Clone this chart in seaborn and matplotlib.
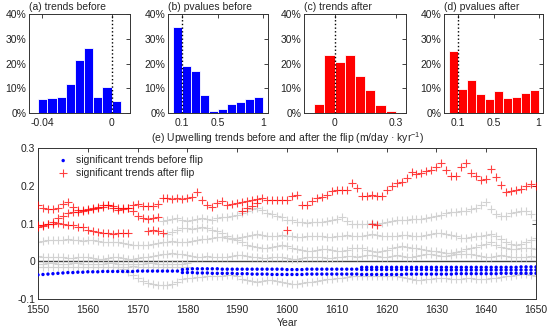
import numpy as np
import pandas as pd
import matplotlib
matplotlib.use('Agg')
import matplotlib.pyplot as plt
from matplotlib.ticker import FuncFormatter
import seaborn as sns

sns.set_theme(style="white")
plt.rcParams['font.family'] = ['Liberation Sans', 'DejaVu Sans']
plt.rcParams['mathtext.fontset'] = 'custom'
plt.rcParams['mathtext.rm'] = 'Liberation Sans'
plt.rcParams['axes.unicode_minus'] = False

# ---- histogram data (percent per bin) ----
a_edges = np.arange(-8, 2) * 0.0053
a_vals = [5.75, 6.2, 6.6, 11.9, 21.5, 26.3, 6.3, 10.5, 4.9]
b_edges = np.linspace(0, 1, 11)
b_vals = [34.9, 18.8, 17.0, 7.3, 1.0, 1.6, 3.6, 4.5, 5.5, 6.3]
c_edges = np.linspace(-0.1, 0.3, 9)
c_vals = [3.7, 23.3, 20.5, 23.6, 15.1, 9.2, 3.4, 1.0]
d_edges = np.linspace(0, 1, 11)
d_vals = [24.9, 9.6, 13.4, 7.8, 5.5, 8.9, 6.2, 6.4, 7.9, 9.2]

# ---- time series (values in 0.01 m/day/kyr), start year + yearly values ----
red_main_start = 1550
red_main = [14.8, 14.2, 13.8, 13.8, 14.0, 15.2, 15.8, 14.4, 13.6, 13.6,
            13.8, 14.0, 14.2, 14.5, 15.0, 14.6, 14.2, 14.2, 14.2, 14.8,
            15.2, 14.6, 14.6, 14.6, 15.2, 16.8, 16.8, 16.6, 16.8, 16.6,
            16.8, 17.0, 18.4, 16.2, 14.9, 14.5, 15.4, 16.0, 14.9, 15.2,
            15.5, 15.8, 16.0, 16.3, 16.5, 16.7, 16.3, 16.3, 16.3, 16.3,
            16.3, 17.2, 17.6, 14.9, 14.9, 16.0, 16.8, 17.0, 17.6, 18.7,
            18.8, 18.9, 18.9, 20.7, 19.5, 17.4, 17.2, 17.5, 17.3, 17.4,
            19.0, 20.0, 20.7, 21.1, 22.0, 23.6, 23.2, 23.4, 24.0, 24.2,
            25.0, 26.0, 24.2, 22.7, 22.7, 25.0, 25.9, 23.5, 22.7, 21.5,
            21.8, 24.4, 22.4, 20.2, 18.3, 18.6, 19.0, 19.2, 20.0, 20.5, 20.0]
red_mid_start = 1550
red_mid = [9.5, 9.6, 10.0, 10.4, 11.4, 12.0, 12.8, 13.0, 13.0, 13.2,
           13.6, 13.8, 14.3, 14.8, 15.0, 14.2, 13.5, 13.8, 14.2, 13.2,
           12.0, 11.5, 11.3, 11.5, 11.8]
red_low_start = 1550
red_low = [9.2, 9.4, 9.9, 10.0, 10.2, 10.0, 9.7, 9.6, 9.2, 9.0,
           8.4, 8.0, 7.8, 7.6, 7.4, 7.3, 7.5, 7.6, 7.6, np.nan,
           np.nan, np.nan, 7.9, 8.4, 8.0, 7.5]
red_branch_start = 1591
red_branch = [13.3, 14.0, 14.7, 15.4]
red_single_years = [1600, 1617, 1618]
red_single = [8.4, 9.9, 9.5]

gray1_start = 1575
gray1 = [10.7, 11.0, 11.3, 11.4, 11.0,
         10.6, 10.8, 11.2, 11.4, 11.2, 11.0, 11.4, 11.6, 11.8, 12.0,
         12.2, 12.8, 13.4, 13.8, 14.2, 13.6, 12.8, 12.4, 12.0, 11.6,
         11.0, 10.8, 10.4, 10.4, 10.2, 10.4, 10.4, 10.4, 10.6, 10.8,
         11.2, 11.6, 10.6, 9.8, 9.8, 9.9, 10.0, 10.1, 10.0, 10.2,
         10.4, 10.6, 10.8, 10.8, 11.0, 11.2, 11.2, 11.3, 11.4, 11.6,
         12.0, 12.2, 12.8, 13.0, 13.0, 13.2, 13.4, 13.8, 14.2, 15.0,
         15.8, 13.8, 12.4, 12.0, 12.0, 12.8, 13.0, 13.2, 13.4, 12.4, 11.0]
gray2_start = 1550
gray2 = [5.2, 5.4, 5.6, 5.6, 5.5, 5.6, 5.8, 5.6, 5.5, 5.4,
         5.5, 5.6, 5.4, 5.2, 5.2, 5.0, 5.0, 4.8, 4.6, 4.4,
         4.3, 4.2, 4.4, 4.6, 4.8, 5.0, 5.2, 5.4, 5.2, 5.0,
         5.2, 5.4, 5.6, 5.8, 6.0, 6.2, 6.4, 6.4, 6.2, 6.0,
         6.2, 6.5, 6.8, 7.0, 7.2, 7.0, 6.8, 6.6, 6.8, 7.0,
         6.8, 6.6, 6.4, 6.4, 6.6, 6.8, 6.8, 6.6, 6.4, 6.4,
         6.6, 6.8, 7.0, 6.8, 6.6, 6.8, 7.0, 7.2, 7.0, 6.8,
         6.6, 6.6, 6.8, 7.0, 7.0, 6.8, 6.8, 6.8, 7.0, 7.2,
         7.4, 7.4, 7.2, 7.0, 6.6, 6.2, 6.2, 6.4, 6.6, 6.8,
         7.0, 7.2, 6.6, 5.8, 5.2, 4.6, 4.4, 4.6, 5.0, 5.6, 6.2]
gray3_start = 1576
gray3 = [7.2, 7.8, 8.4, 8.8,
         8.8, 8.6, 8.8, 9.0, 8.8, 8.4, 8.0, 7.4, 6.8, 6.2,
         5.6, 5.0, 4.4, 4.0, 3.8, 3.6, 3.6, 3.8, 4.0, 4.2,
         4.0, 3.6, 3.2, 3.0, 2.8, 2.8, 3.0, 3.2, 3.2, 3.0,
         2.8, 2.8, 3.0, 3.4, 3.6, 3.4, 3.0, 2.6, 2.4, 2.6,
         3.0, 3.4, 3.8, 4.0, 3.8, 3.6, 3.4, 3.2, 3.0, 2.8,
         2.6, 2.4, 2.2, 2.2, 2.4, 2.8, 3.2, 3.6, 3.8, 4.2,
         4.6, 5.0, 4.4, 3.8, 3.4, 3.2, 3.2, 3.4, 3.6, 3.4, 3.2]
gray4_start = 1550
gray4 = [1.4, 1.2, 1.0, 1.0, 1.2, 1.0, 0.8, 0.8, 1.0, 1.2,
         1.0, 0.8, 0.6, 0.6, 0.8, 1.0, 1.0, 0.8, 0.6, 0.6,
         0.8, 1.0, 1.2, 1.4, 1.6, 1.8, 2.0, 2.2, 2.0, 1.8,
         1.6, 1.4, 1.2, 1.2, 1.4, 1.2, 1.0, 1.0, 1.2, 1.4,
         1.6, 1.6, 1.4, 1.2, 1.0, 0.8, 0.8, 1.0, 1.2, 1.0,
         0.8, 0.6, 0.6, 0.8, 1.0, 1.2, 1.2, 1.0, 0.8, 0.8,
         1.0, 1.2, 1.4, 1.4, 1.2, 1.4, 1.6, 1.6, 1.4, 1.2,
         1.2, 1.4, 1.6, 1.4, 1.2, 1.2, 1.4, 1.6, 1.8, 1.8,
         1.6, 1.4, 1.4, 1.6, 1.8, 2.0, 2.0, 1.8, 1.6, 1.4,
         1.2, 1.2, 1.4, 1.6, 1.4, 1.2, 1.0, 1.0, 1.2, 1.4, 1.2]
gray5_start = 1566
gray5 = [-1.4, -2.0, -2.8, -3.6,
         -4.4, -5.2, -5.8, -6.0, -6.2, -6.3, -6.2, -6.0, -5.4, -4.8,
         -4.5, -4.4, -4.2, -4.2, -4.0, -4.0, -4.0, -3.8, -3.6, -3.6,
         -4.0, -4.6, -5.0, -5.2, -5.4, -5.2, -5.0, -5.0, -5.2, -5.4,
         -5.8, -6.0, -6.0, -5.8, -5.6, -5.4, -5.2, -5.0, -4.8, -4.6,
         -4.5, -4.4, -4.2, -4.0, -4.0, -4.0, -4.0, -4.0, -4.0, -4.0,
         -4.0, -4.0, -4.0, -4.2, -4.4, -4.8, -5.0, -5.0, -4.8, -4.6,
         -4.4, -4.4, -4.4, -4.6, -4.6, -4.6, -4.4, -4.4, -4.6, -4.6,
         -4.6, -4.4, -4.4, -4.2, -4.0, -3.8, -3.6, -3.4, -3.4, -3.6, -3.8]
gray6_start = 1550
gray6 = [-0.6, -0.6, -0.5, -0.5, -0.6, -0.7, -0.6, -0.5, -0.5, -0.6,
         -0.6, -0.7, -0.6, -0.6, -0.5, -0.5, -0.6, -0.6, -0.7, -0.7,
         -0.6, -0.6, -0.5, -0.5, -0.6, -0.6, -0.7, -0.7, -0.6, -0.6, -0.5]
gray7_start = 1550
gray7 = [-1.6, -1.6, -1.5, -1.4, -1.4, -1.5, -1.6, -1.6, -1.5, -1.4,
         -1.4, -1.4, -1.5, -1.6, -1.6, -1.6, -1.5, -1.4, -1.4, -1.3,
         -1.4, -1.5, -1.6, -1.6, -1.5, -1.4, -1.4, -1.5, -1.5, -1.6, -1.6]

blue1_start = 1550
blue1 = [-3.6, -3.5, -3.4, -3.3, -3.2, -3.1, -3.0, -3.0, -2.9, -2.9,
         -2.8, -2.8, -2.8, -2.7, -2.7, -2.7, -2.7, -2.7, -2.7, -2.7,
         -2.6, -2.6, -2.6, -2.6, -2.6, -2.6, -2.6, -2.6, -2.6, -3.0,
         -3.0, -3.0, -3.1, -3.1, -3.1, -3.2, -3.2, -3.2, -3.2, -3.2,
         -3.3, -3.3, -3.3, -3.4, -3.4, -3.4, -3.4, -3.5, -3.5, -3.5,
         -3.5, -3.5, -3.5, -3.5, -3.4, -3.4, -3.4, -3.4, -3.4, -3.4,
         -3.4, -3.4, -3.4, -3.4, -3.4, -3.5, -3.5, -3.5, -3.5, -3.5,
         -3.5, -3.5, -3.5, -3.5, -3.4, -3.4, -3.4, -3.4, -3.4, -3.4,
         -3.4, -3.4, -3.4, -3.4, -3.3, -3.3, -3.3, -3.3, -3.3, -3.3,
         -3.3, -3.3, -3.3, -3.2, -3.2, -3.2, -3.2, -3.2, -3.2, -3.2, -3.2]
blue2_start = 1579
blue2 = [-2.2,
         -2.1, -2.0, -2.0, -2.0, -2.0, -2.0, -2.0, -2.1, -2.1, -2.1,
         -2.1, -2.1, -2.1, -2.1, -2.1, -2.1, -2.1, -2.1, -2.1, -2.1,
         -2.2, -2.2, -2.2, -2.2, -2.1, -2.1, -2.1, -2.1, -2.1, -2.1,
         -2.1, -2.1, -2.1, -2.1, -2.1, -2.2, -2.2, -2.2, -2.2, -2.2,
         -2.2, -2.2, -2.2, -2.2, -2.2, -2.2, -2.2, -2.2, -2.2, -2.2,
         -2.3, -2.3, -2.3, -2.3, -2.3, -2.3, -2.3, -2.3, -2.3, -2.3,
         -2.3, -2.3, -2.3, -2.3, -2.3, -2.3, -2.3, -2.3, -2.3, -2.3, -2.3]
blue3_start = 1615
blue3 = [-1.6, -1.6, -1.6, -1.6, -1.6, -1.6, -1.6, -1.6, -1.6, -1.6,
         -1.6, -1.6, -1.6, -1.6, -1.6, -1.6, -1.6, -1.6, -1.6, -1.6,
         -1.6, -1.6, -1.6, -1.6, -1.6, -1.6, -1.6, -1.6, -1.6, -1.6,
         -1.6, -1.6, -1.5, -1.5, -1.5, -1.5]


def track(start, vals):
    return pd.DataFrame({'year': np.arange(start, start + len(vals)),
                         'value': np.array(vals, dtype=float) / 100})


W, H = 550, 330


def box(x0, x1, y0, y1):
    return [x0 / W, 1 - y1 / H, (x1 - x0) / W, (y1 - y0) / H]


def style_axes(ax, xpad=3.5):
    ax.tick_params(direction='in', length=3, width=0.6, top=True, right=True,
                   labelsize=7.5, pad=2, colors='#222222')
    ax.tick_params(axis='x', pad=xpad)
    for sp in ax.spines.values():
        sp.set_color('#333333')
        sp.set_linewidth(0.7)


fmt_g = FuncFormatter(lambda v, p: f'{v:g}')


def hist_panel(ax, edges, vals, color, xlim, xticks, vline, title):
    centers = (edges[:-1] + edges[1:]) / 2
    hist_df = pd.DataFrame({'center': centers, 'pct': vals})
    sns.histplot(data=hist_df, x='center', weights='pct', bins=list(edges),
                 color=color, alpha=1, edgecolor='white', linewidth=0.6, ax=ax)
    ax.axvline(vline, color='black', ls=':', lw=1)
    ax.set_xlim(*xlim)
    ax.set_ylim(0, 40)
    ax.set_xticks(xticks)
    ax.set_yticks([0, 10, 20, 30, 40])
    ax.xaxis.set_major_formatter(fmt_g)
    ax.yaxis.set_major_formatter(FuncFormatter(lambda v, p: f'{v:.0f}%'))
    ax.set_xlabel('')
    ax.set_ylabel('')
    ax.set_title(title, loc='left', fontsize=7.5, pad=3)
    style_axes(ax)


fig = plt.figure(figsize=(W / 100, H / 100), dpi=100)

ax_a = fig.add_axes(box(29, 130, 14, 113))
ax_b = fig.add_axes(box(168, 268, 14, 113))
ax_c = fig.add_axes(box(304, 406, 14, 113))
ax_d = fig.add_axes(box(444, 543, 14, 113))

hist_panel(ax_a, a_edges, a_vals, '#0000ff', (a_edges[0] - 0.0053, a_edges[-1] + 0.0053),
           [-0.04, 0], 0, '(a) trends before')
hist_panel(ax_b, b_edges, b_vals, '#0000ff', (-0.05, 1.05), [0.1, 0.5, 1], 0.1,
           '(b) pvalues before')
hist_panel(ax_c, c_edges, c_vals, '#ff0000', (-0.15, 0.35), [0, 0.3], 0,
           '(c) trends after')
hist_panel(ax_d, d_edges, d_vals, '#ff0000', (-0.05, 1.05), [0.1, 0.5, 1], 0.1,
           '(d) pvalues after')

# ---- bottom panel ----
ax = fig.add_axes(box(38, 536, 148, 299))

gray_df = pd.concat([track(gray1_start, gray1), track(gray2_start, gray2),
                     track(gray3_start, gray3), track(gray4_start, gray4),
                     track(gray5_start, gray5), track(gray6_start, gray6),
                     track(gray7_start, gray7)]).dropna()
red_df = pd.concat([track(red_main_start, red_main), track(red_mid_start, red_mid),
                    track(red_low_start, red_low), track(red_branch_start, red_branch),
                    pd.DataFrame({'year': red_single_years,
                                  'value': np.array(red_single) / 100})]).dropna()
blue_df = pd.concat([track(blue1_start, blue1), track(blue2_start, blue2),
                     track(blue3_start, blue3)])

ax.axhline(0, color='#444444', lw=1, zorder=1)
sns.scatterplot(data=gray_df, x='year', y='value', marker='+', s=38,
                color='#d2d2d2', linewidth=0.8, ax=ax, zorder=2)
sns.scatterplot(data=blue_df, x='year', y='value', marker='o', s=6,
                color='#0000ff', edgecolor='none', ax=ax, zorder=3,
                label='significant trends before flip')
sns.scatterplot(data=red_df, x='year', y='value', marker='+', s=38,
                color='#ff0000', alpha=0.75, linewidth=0.8, ax=ax, zorder=4,
                label='significant trends after flip')

ax.set_xlim(1550, 1650)
ax.set_ylim(-0.1, 0.3)
ax.set_xticks(range(1550, 1651, 10))
ax.set_yticks([-0.1, 0, 0.1, 0.2, 0.3])
ax.yaxis.set_major_formatter(fmt_g)
ax.set_xlabel('Year', fontsize=7.5, labelpad=2)
ax.set_ylabel('')
ax.set_title('(e) Upwelling trends before and after the flip (m/day \u00b7 kyr$^{-1}$)',
             fontsize=7.5, pad=4)
style_axes(ax, xpad=4.5)
ax.legend(loc='upper left', bbox_to_anchor=(0.015, 1.0), frameon=False, fontsize=7.5,
          handletextpad=0.2, labelspacing=0.25, borderaxespad=0.3, markerscale=1.0)

fig.savefig('out.png', dpi=100)
